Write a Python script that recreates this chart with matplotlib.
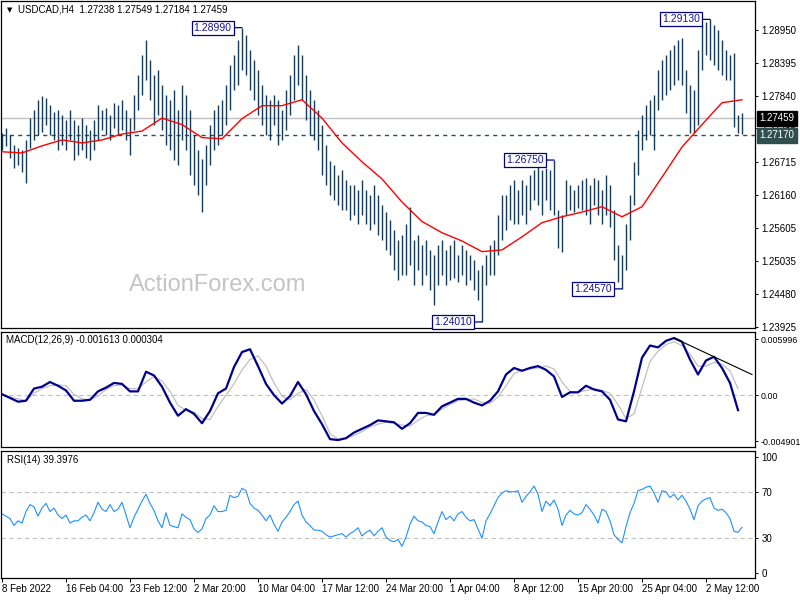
"""
USDCAD H4 chart with MA, MACD and RSI panels
"""

import numpy as np
import matplotlib
matplotlib.use("Agg")
import matplotlib.pyplot as plt

plt.rcParams['font.family'] = ['Liberation Sans', 'DejaVu Sans']

# price bars (every second H4 bar), high / low
highs = [1.2721, 1.2730, 1.2718, 1.2701, 1.2696, 1.2692, 1.2709, 1.2746, 1.2760, 1.2777,
         1.2784, 1.2780, 1.2768, 1.2757, 1.2760, 1.2751, 1.2743, 1.2760, 1.2743, 1.2735,
         1.2746, 1.2735, 1.2726, 1.2743, 1.2768, 1.2760, 1.2763, 1.2751, 1.2772, 1.2768,
         1.2777, 1.2760, 1.2746, 1.2785, 1.2819, 1.2853, 1.2878, 1.2844, 1.2819, 1.2827,
         1.2802, 1.2785, 1.2777, 1.2793, 1.2760, 1.2802, 1.2785, 1.2760, 1.2718, 1.2692,
         1.2677, 1.2701, 1.2735, 1.2760, 1.2768, 1.2777, 1.2802, 1.2836, 1.2853, 1.2878,
         1.28990, 1.2887, 1.2861, 1.2844, 1.2827, 1.2802, 1.2785, 1.2777, 1.2785, 1.2777,
         1.2760, 1.2793, 1.2819, 1.2853, 1.2870, 1.2853, 1.2819, 1.2793, 1.2777, 1.2760,
         1.2735, 1.2701, 1.2673, 1.2667, 1.2650, 1.2658, 1.2641, 1.2633, 1.2633, 1.2624,
         1.2641, 1.2624, 1.2616, 1.2633, 1.2616, 1.2599, 1.2587, 1.2573, 1.2557, 1.2540,
         1.2549, 1.2566, 1.2596, 1.2540, 1.2549, 1.2532, 1.2540, 1.2523, 1.2515, 1.2532,
         1.2540, 1.2523, 1.2532, 1.2540, 1.2515, 1.2532, 1.2523, 1.2515, 1.2506, 1.2489,
         1.2498, 1.2515, 1.2532, 1.2540, 1.2582, 1.2616, 1.2616, 1.2633, 1.2641, 1.2624,
         1.2641, 1.2633, 1.2650, 1.2658, 1.2667, 1.2658, 1.2662, 1.2658, 1.26750, 1.2590,
         1.2582, 1.2641, 1.2633, 1.2624, 1.2633, 1.2641, 1.2645, 1.2633, 1.2645, 1.2641,
         1.2624, 1.2650, 1.2633, 1.2590, 1.2532, 1.2515, 1.2566, 1.2616, 1.2672, 1.2726,
         1.2751, 1.2768, 1.2777, 1.2785, 1.2827, 1.2844, 1.2853, 1.2861, 1.2870, 1.2878,
         1.2882, 1.2827, 1.2802, 1.2793, 1.2861, 1.2904, 1.2909, 1.29130, 1.2904, 1.2895,
         1.2878, 1.2861, 1.2853, 1.2856, 1.2751, 1.27549]
lows = [1.2692, 1.2698, 1.2679, 1.2662, 1.2667, 1.2655, 1.2636, 1.2696, 1.2709, 1.2718,
        1.2723, 1.2735, 1.2718, 1.2709, 1.2692, 1.2701, 1.2692, 1.2709, 1.2675, 1.2684,
        1.2692, 1.2679, 1.2675, 1.2692, 1.2709, 1.2726, 1.2718, 1.2709, 1.2730, 1.2718,
        1.2726, 1.2709, 1.2684, 1.2726, 1.2760, 1.2785, 1.2810, 1.2777, 1.2735, 1.2751,
        1.2726, 1.2701, 1.2692, 1.2675, 1.2667, 1.2709, 1.2692, 1.2650, 1.2633, 1.2616,
        1.2587, 1.2633, 1.2667, 1.2692, 1.2701, 1.2718, 1.2735, 1.2760, 1.2793, 1.2802,
        1.2827, 1.2819, 1.2793, 1.2777, 1.2751, 1.2735, 1.2718, 1.2709, 1.2735, 1.2701,
        1.2709, 1.2726, 1.2751, 1.2777, 1.2802, 1.2777, 1.2743, 1.2718, 1.2709, 1.2692,
        1.2650, 1.2633, 1.2616, 1.2607, 1.2599, 1.2590, 1.2590, 1.2573, 1.2582, 1.2566,
        1.2582, 1.2566, 1.2557, 1.2566, 1.2549, 1.2540, 1.2523, 1.2515, 1.2489, 1.2472,
        1.2481, 1.2481, 1.2498, 1.2464, 1.2489, 1.2464, 1.2481, 1.2455, 1.2430, 1.2464,
        1.2481, 1.2464, 1.2472, 1.2476, 1.2468, 1.2481, 1.2464, 1.2472, 1.2455, 1.2438,
        1.24010, 1.2464, 1.2481, 1.2481, 1.2515, 1.2540, 1.2557, 1.2573, 1.2566, 1.2566,
        1.2582, 1.2566, 1.2590, 1.2607, 1.2599, 1.2582, 1.2607, 1.2590, 1.2582, 1.2527,
        1.2520, 1.2582, 1.2590, 1.2587, 1.2594, 1.2590, 1.2582, 1.2566, 1.2599, 1.2582,
        1.2566, 1.2582, 1.2561, 1.2506, 1.2469, 1.24570, 1.2489, 1.2540, 1.2599, 1.2650,
        1.2692, 1.2709, 1.2718, 1.2692, 1.2760, 1.2777, 1.2785, 1.2793, 1.2802, 1.2810,
        1.2802, 1.2755, 1.2721, 1.2721, 1.2735, 1.2827, 1.2853, 1.2844, 1.2836, 1.2827,
        1.2819, 1.2810, 1.2810, 1.2731, 1.2721, 1.27184]

# moving average, one value every 5 bars
ma = [1.2689, 1.2687, 1.2699, 1.2709, 1.2704, 1.2709, 1.2719, 1.2724, 1.2746, 1.2735,
      1.2713, 1.2711, 1.2745, 1.2767, 1.2767, 1.2777, 1.2746, 1.2704, 1.2672, 1.2643,
      1.2604, 1.2571, 1.2552, 1.2538, 1.2520, 1.2523, 1.2545, 1.2569, 1.2579, 1.2587,
      1.2596, 1.2579, 1.2596, 1.2646, 1.2697, 1.2735, 1.2772, 1.2777]

# MACD(12,26,9) main and signal, one value every 2 bars
macd = [0.0001, -0.0003, -0.0007, -0.0006, 0.0007, 0.0009, 0.0014, 0.0010, 0.0005, -0.0006,
        -0.0006, -0.0005, 0.0004, 0.0008, 0.0013, 0.0012, 0.0004, 0.0004, 0.0025, 0.0021,
        0.0009, -0.0008, -0.0022, -0.0015, -0.0020, -0.0030, -0.0017, 0.0002, 0.0007, 0.0030,
        0.0046, 0.0049, 0.0031, 0.0012, 0.0000, -0.0009, -0.0001, 0.0014, 0.0001, -0.0017,
        -0.0031, -0.0047, -0.0048, -0.0046, -0.0040, -0.0036, -0.0032, -0.0027, -0.0028, -0.0029,
        -0.0036, -0.0030, -0.0019, -0.0019, -0.0021, -0.0012, -0.0008, -0.0004, -0.0004, -0.0008,
        -0.0011, -0.0006, 0.0004, 0.0022, 0.0029, 0.0026, 0.0029, 0.0031, 0.0027, 0.0020,
        -0.0002, 0.0003, 0.0003, 0.0010, 0.0006, 0.0004, -0.0005, -0.0026, -0.0028, 0.0004,
        0.0040, 0.0053, 0.0051, 0.0058, 0.0061, 0.0057, 0.0038, 0.0022, 0.0037, 0.0041,
        0.0029, 0.0013, -0.0016]
signal = [0.0001, -0.0002, -0.0004, -0.0006, 0.0002, 0.0007, 0.0010, 0.0011, 0.0010, 0.0001,
          -0.0004, -0.0005, -0.0001, 0.0006, 0.0010, 0.0011, 0.0007, 0.0007, 0.0014, 0.0020,
          0.0015, 0.0004, -0.0011, -0.0016, -0.0018, -0.0025, -0.0026, -0.0012, 0.0000, 0.0012,
          0.0027, 0.0038, 0.0042, 0.0031, 0.0013, -0.0001, -0.0005, 0.0002, 0.0006, -0.0005,
          -0.0022, -0.0041, -0.0047, -0.0046, -0.0043, -0.0039, -0.0034, -0.0031, -0.0029, -0.0030,
          -0.0032, -0.0033, -0.0027, -0.0022, -0.0021, -0.0015, -0.0010, -0.0006, -0.0005, -0.0004,
          -0.0008, -0.0009, -0.0002, 0.0010, 0.0023, 0.0027, 0.0028, 0.0029, 0.0031, 0.0028,
          0.0014, 0.0004, 0.0003, 0.0005, 0.0007, 0.0005, 0.0002, -0.0010, -0.0025, -0.0020,
          0.0008, 0.0036, 0.0047, 0.0054, 0.0057, 0.0053, 0.0044, 0.0031, 0.0031, 0.0035,
          0.0033, 0.0026, 0.0007]

# RSI(14), one value per bar
rsi = [51, 49, 47, 41, 45, 43, 53, 59, 57, 49,
       56, 60, 53, 56, 50, 47, 50, 43, 45, 45,
       48, 50, 45, 52, 61, 55, 53, 59, 53, 55,
       61, 50, 39, 48, 55, 62, 68, 60, 54, 45,
       39, 52, 41, 40, 39, 51, 48, 46, 38, 35,
       38, 47, 50, 58, 53, 53, 54, 67, 65, 66,
       73, 71, 60, 56, 54, 50, 45, 50, 42, 36,
       44, 48, 53, 59, 62, 50, 44, 41, 37, 37,
       36, 33, 31, 32, 33, 34, 31, 34, 36, 39,
       32, 35, 37, 32, 36, 39, 31, 28, 27, 29,
       23, 31, 42, 49, 45, 44, 41, 40, 34, 44,
       53, 46, 49, 45, 51, 53, 48, 45, 46, 38,
       30, 45, 51, 58, 65, 69, 71, 70, 70, 71,
       61, 66, 70, 75, 68, 53, 62, 58, 63, 55,
       41, 50, 54, 51, 50, 52, 59, 55, 50, 43,
       55, 53, 45, 33, 29, 26, 40, 52, 60, 71,
       72, 74, 75, 69, 61, 71, 70, 65, 68, 63,
       67, 62, 55, 46, 58, 62, 64, 65, 56, 54,
       55, 52, 47, 36, 35, 39.4]

date_labels = ["8 Feb 2022", "16 Feb 04:00", "23 Feb 12:00", "2 Mar 20:00", "10 Mar 04:00",
               "17 Mar 12:00", "24 Mar 20:00", "1 Apr 04:00", "8 Apr 12:00", "15 Apr 20:00",
               "25 Apr 04:00", "2 May 12:00"]
price_ticks = [1.28950, 1.28395, 1.27840, 1.27285, 1.26715, 1.26160, 1.25605, 1.25035, 1.24480, 1.23925]
macd_ticks = [0.005996, 0.0, -0.004901]
macd_tick_labels = ["0.005996", "0.00", "-0.004901"]
rsi_ticks = [100, 70, 30, 0]
swing_highs = [1.28990, 1.29130, 1.26750]
swing_lows = [1.24010, 1.24570]
last_price = 1.27459
level = 1.27170

highs = np.array(highs)
lows = np.array(lows)
bars = np.arange(len(highs))

W, H = 800, 600
fig = plt.figure(figsize=(8, 6), dpi=100)

def px_axes(left, top, right, bottom):
    return fig.add_axes([left / W, 1 - bottom / H, (right - left) / W, (bottom - top) / H])

ax1 = px_axes(1, 1, 755, 328)
ax2 = px_axes(1, 332, 755, 447)
ax3 = px_axes(1, 451, 755, 578)

bar_col = '#143c5a'
navy = '#000080'

for ax in (ax1, ax2, ax3):
    ax.set_xlim(-0.25, 188.25)
    for s in ax.spines.values():
        s.set_linewidth(0.9)
        s.set_color('black')
    ax.yaxis.tick_right()
    ax.tick_params(axis='y', length=2.5, width=0.7, pad=2, labelsize=7, colors='black')
    ax.tick_params(axis='x', bottom=False, labelbottom=False)

# main price panel
ax1.set_ylim(1.23908, 1.29441)
ax1.vlines(bars, lows, highs, color=bar_col, lw=1.0, zorder=3)
ax1.plot(np.arange(len(ma)) * 5, ma, color='red', lw=1.0, zorder=4)
ax1.axhline(last_price, color='#c0c0c0', lw=1.0, zorder=2)
ax1.axhline(level, color='#2f4f4f', lw=1.0, ls=(0, (3, 3)), zorder=2)
ax1.set_yticks(price_ticks)
ax1.set_yticklabels([f"{v:.5f}" for v in price_ticks])

for txt, col in ((f"{last_price:.5f}", 'black'), (f"{level:.5f}", '#2f4f4f')):
    v = float(txt)
    ax1.text(1.006, v, txt, transform=ax1.get_yaxis_transform(), ha='left', va='center',
             fontsize=7, color='white', zorder=10, clip_on=False,
             bbox=dict(boxstyle='square,pad=0.25', fc=col, ec=col))

ann_kw = dict(textcoords='offset points', va='center', fontsize=7.5, color='#14149a', zorder=6,
              bbox=dict(boxstyle='square,pad=0.2', fc='white', ec=navy, lw=0.9),
              arrowprops=dict(arrowstyle='-', color=navy, lw=0.9, shrinkA=0, shrinkB=0))
for v in swing_highs:
    i = int(np.argmin(np.abs(highs - v)))
    ax1.annotate(f"{v:.5f}", xy=(i, v), xytext=(-7.5, 0), ha='right', **ann_kw)
for v in swing_lows:
    i = int(np.argmin(np.abs(lows - v)))
    ax1.annotate(f"{v:.5f}", xy=(i, v), xytext=(-7.5, 0), ha='right', **ann_kw)

ax1.text(218 / W, 1 - 285 / H, "ActionForex.com", transform=fig.transFigure, ha='center',
         va='center', fontsize=17, color='#c4c4c4', zorder=1)
fig.text(10 / W, 1 - 10 / H, "\u25bc", fontsize=5, ha='center', va='center', family='DejaVu Sans')
fig.text(18 / W, 1 - 10 / H, "USDCAD,H4  1.27238 1.27549 1.27184 1.27459", fontsize=7,
         ha='left', va='center')

# MACD panel
ax2.set_ylim(-0.005542, 0.006744)
mx = np.arange(len(macd)) * 2
ax2.axhline(0, color='#c0c0c0', lw=0.8, ls=(0, (4, 3)))
ax2.plot(mx, signal, color='#c0c0c0', lw=0.9)
ax2.plot(mx, macd, color='#00008b', lw=1.6)
k1 = int(np.argmax(macd))
k2 = k1 + 3 + int(np.argmax(macd[k1 + 3:]))
slope = (macd[k2] - macd[k1]) / (mx[k2] - mx[k1])
tx = np.array([mx[k1], 187.5])
ax2.plot(tx, macd[k1] + slope * (tx - mx[k1]), color='black', lw=0.8)
ax2.set_yticks(macd_ticks)
ax2.set_yticklabels(macd_tick_labels)
ax2.tick_params(axis='y', labelsize=6.4, pad=1.2)
fig.text(6 / W, 1 - 340 / H, "MACD(12,26,9) -0.001613 0.000304", fontsize=7, ha='left', va='center')

# RSI panel
ax3.set_ylim(-4.3, 105.2)
for lv in (70, 30):
    ax3.axhline(lv, color='#c0c0c0', lw=0.8, ls=(0, (4, 3)))
ax3.plot(bars, rsi, color='#1e90ff', lw=0.8)
ax3.set_yticks(rsi_ticks)
ax3.set_yticklabels([str(v) for v in rsi_ticks])
fig.text(7 / W, 1 - 460 / H, "RSI(14) 39.3976", fontsize=7, ha='left', va='center')

ax3.tick_params(axis='x', bottom=True, labelbottom=True, length=3, width=0.7, pad=1.5,
                labelsize=7, colors='black')
ax3.set_xticks(np.arange(len(date_labels)) * 16)
ax3.set_xticklabels(date_labels, ha='left')

fig.savefig("out.png", dpi=100)
